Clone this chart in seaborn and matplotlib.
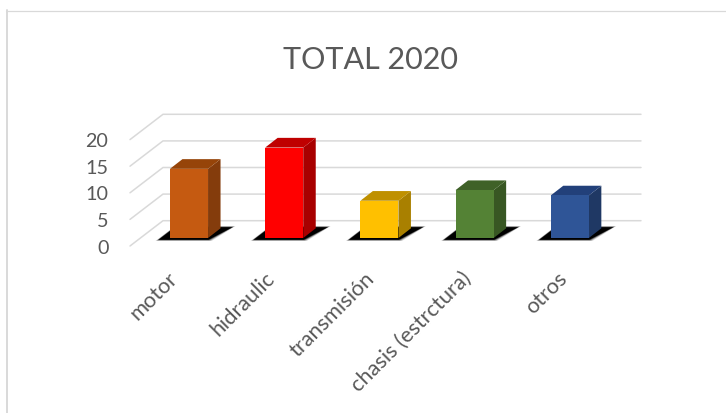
import matplotlib
matplotlib.use("Agg")
import matplotlib.pyplot as plt
import matplotlib.transforms as mtrans
from matplotlib.lines import Line2D
from matplotlib.patches import Polygon
import pandas as pd
import seaborn as sns

title = "TOTAL 2020"
categories = ["motor", "hidraulic", "transmisión", "chasis (estrctura)", "otros"]
values = [13, 17, 7, 9, 8]
front_colors = ["#C55A11", "#FF0000", "#FFC000", "#548235", "#2F5597"]
top_colors = ["#964409", "#BF0000", "#BF9000", "#3F6128", "#22407A"]
side_colors = ["#843C0C", "#A80000", "#A98000", "#385723", "#1F3864"]
y_ticks = [0, 5, 10, 15, 20]

W, H, DPI = 726, 413, 100
TEXT = "#595959"
GRID = "#D9D9D9"
FONT = "Lato"

sns.set_theme(style="white")
plt.rcParams["font.family"] = [FONT, "DejaVu Sans"]

fig = plt.figure(figsize=(W / DPI, H / DPI), dpi=DPI, facecolor="white")

# plot area, in pixels from the top-left corner
left, right, top, base = 130.0, 641.0, 100.0, 238.0
ax = fig.add_axes([left / W, 1 - base / H, (right - left) / W, (base - top) / H])

px_per_unit = 5.32
px_per_cat = 95.2
first_center = 189.0

df = pd.DataFrame({"categoria": categories, "valor": values})
sns.barplot(
    data=df, x="categoria", y="valor", hue="categoria", palette=front_colors,
    width=0.4, dodge=False, legend=False, ax=ax, zorder=5, saturation=1,
    edgecolor="none", linewidth=0,
)
ax.set_xlim((left - first_center) / px_per_cat, (right - first_center) / px_per_cat)
ax.set_ylim(0, (base - top) / px_per_unit)


def ox(px):
    return px / px_per_cat


def oy(px):
    return px / px_per_unit


# pseudo-3D floor and back wall grid
back_dx, back_dy, front_dy = 33.0, 17.3, -8.0
x_left, x_right = ax.get_xlim()
for t in y_ticks:
    ax.plot([x_left, x_left + ox(back_dx), x_right],
            [t + oy(front_dy), t + oy(back_dy), t + oy(back_dy)],
            color=GRID, lw=1.1, clip_on=False, zorder=1, solid_joinstyle="miter")

# extruded sides, top faces and soft floor shadows for each bar
depth_x, depth_y = ox(12.5), oy(9.7)
for bar, top_c, side_c in zip(ax.patches, top_colors, side_colors):
    x0, x1 = bar.get_x(), bar.get_x() + bar.get_width()
    h = bar.get_height()
    for grow, alpha in [(2.5, 0.15), (1.5, 0.25), (0.5, 0.5), (-0.5, 1.0)]:
        shadow = [
            (x0 - ox(12 + grow), oy(-2 - grow * 0.4)),
            (x1 + ox(1 + grow), oy(-2 - grow * 0.4)),
            (x1 + ox(25 + grow), oy(11 + grow * 0.4)),
            (x0 + ox(5), oy(11 + grow * 0.4)),
        ]
        ax.add_patch(Polygon(shadow, closed=True, fc="black", ec="none",
                             alpha=alpha, zorder=2, clip_on=False))
    ax.add_patch(Polygon([(x1, 0), (x1 + depth_x, depth_y), (x1 + depth_x, h + depth_y), (x1, h)],
                         closed=True, fc=side_c, ec="none", zorder=4))
    ax.add_patch(Polygon([(x0, h), (x0 + depth_x, h + depth_y), (x1 + depth_x, h + depth_y), (x1, h)],
                         closed=True, fc=top_c, ec="none", zorder=4))

for side in ax.spines.values():
    side.set_visible(False)
ax.patch.set_visible(False)
ax.set_xlabel("")
ax.set_ylabel("")
ax.tick_params(axis="both", length=0)

# value labels sit on the front edge of the floor, below the bar baseline
ax.set_yticks(y_ticks)
ax.set_yticklabels([str(t) for t in y_ticks], fontsize=14.2, color=TEXT)
ax.tick_params(axis="y", pad=15.5)
shift_y = mtrans.ScaledTranslation(0, -8.5 / DPI, fig.dpi_scale_trans)
for lab in ax.get_yticklabels():
    lab.set_transform(lab.get_transform() + shift_y)

ax.set_xticks(range(len(categories)))
ax.set_xticklabels(categories, rotation=45, ha="right", va="top",
                   rotation_mode="anchor", fontsize=15.7, color=TEXT)
ax.tick_params(axis="x", pad=22)
for lab, nudge in zip(ax.get_xticklabels(), [-22, -20, -15, -14, -13]):
    shift_x = mtrans.ScaledTranslation(nudge / DPI, 0, fig.dpi_scale_trans)
    lab.set_transform(lab.get_transform() + shift_x)

fig.text(370.5 / W, 1 - 60 / H, title, ha="center", va="center",
         fontsize=22, color=TEXT)

# chart frame: only the top and left edges fall inside the canvas
fig.add_artist(Line2D([7 / W, 7 / W], [0, 1 - 10 / H], color=GRID, lw=1.4))
fig.add_artist(Line2D([6 / W, 1], [1 - 10.5 / H, 1 - 10.5 / H], color=GRID, lw=0.9))

fig.savefig("out.png", dpi=DPI, facecolor="white")
